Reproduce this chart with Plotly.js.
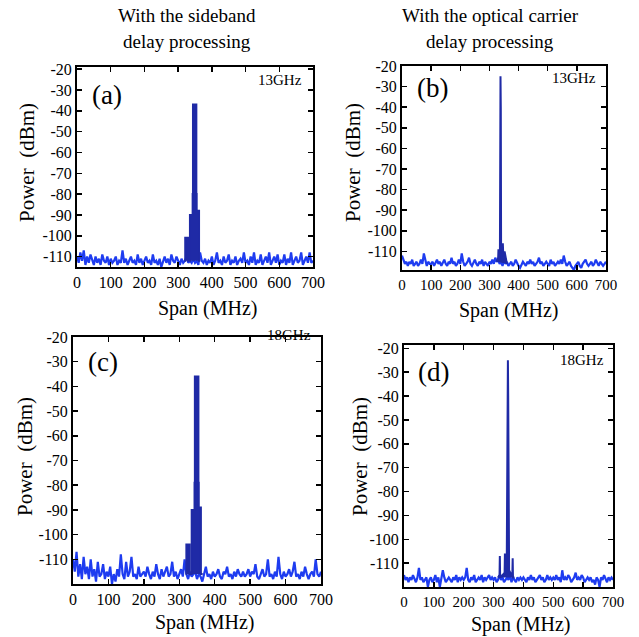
<!DOCTYPE html>
<html>
<head>
<meta charset="utf-8">
<script src="https://cdn.plot.ly/plotly-3.0.1.min.js"></script>
<style>html,body{margin:0;padding:0;background:#fff;}#chart{width:639px;height:637px;}</style>
</head>
<body>
<div id="chart"></div>
<script>
// ---- data ----
const spanMHz = [0,5,10,15,20,25,30,35,40,45,50,55,60,65,70,75,80,85,90,95,
  100,105,110,115,120,125,130,135,140,145,150,155,160,165,170,175,180,185,190,195,
  200,205,210,215,220,225,230,235,240,245,250,255,260,265,270,275,280,285,290,295,
  300,305,310,315,320,325,330,335,340,345,350,355,360,365,370,375,380,385,390,395,
  400,405,410,415,420,425,430,435,440,445,450,455,460,465,470,475,480,485,490,495,
  500,505,510,515,520,525,530,535,540,545,550,555,560,565,570,575,580,585,590,595,
  600,605,610,615,620,625,630,635,640,645,650,655,660,665,670,675,680,685,690,695,700];

const noiseA = [-110,-113,-108,-112,-107,-114,-110,-113,-109,-112,-114,-110,-113,-111,-114,-109,-112,-113,-110,-114,
  -111,-113,-112,-110,-114,-112,-113,-107,-113,-111,-114,-112,-110,-113,-112,-114,-109,-113,-111,-114,
  -112,-110,-113,-112,-114,-109,-113,-112,-114,-111,-115,-112,-110,-113,-111,-114,-109,-112,-113,-110,
  -112,-114,-111,-113,-112,-110,-113,-112,-113,-111,-113,-112,-114,-108,-112,-113,-111,-114,-112,-113,
  -110,-114,-112,-108,-113,-112,-114,-110,-113,-112,-109,-114,-112,-113,-110,-114,-112,-111,-113,-108,
  -113,-112,-114,-110,-113,-108,-114,-112,-113,-109,-114,-112,-110,-113,-108,-114,-112,-110,-113,-109,
  -114,-112,-113,-109,-114,-111,-113,-108,-114,-112,-110,-113,-112,-108,-114,-112,-110,-113,-108,-113,-112];

const noiseB = [-112,-114,-116,-115,-117,-115,-116,-114,-117,-116,-115,-117,-116,-114,-116,-111,-115,-117,-115,-116,
  -116,-115,-117,-115,-114,-116,-115,-117,-115,-114,-116,-117,-115,-116,-113,-116,-115,-117,-116,-114,
  -116,-111,-115,-117,-116,-115,-113,-116,-117,-115,-114,-116,-117,-115,-116,-114,-117,-115,-116,-117,
  -115,-116,-114,-116,-113,-115,-114,-116,-115,-117,-114,-116,-115,-117,-116,-115,-117,-116,-114,-116,
  -117,-118,-116,-115,-116,-117,-115,-116,-114,-116,-115,-117,-116,-115,-113,-116,-115,-117,-116,-115,
  -116,-117,-114,-116,-115,-117,-116,-115,-116,-114,-116,-112,-115,-117,-116,-115,-117,-118,-119,-117,
  -116,-115,-117,-118,-116,-115,-114,-116,-117,-116,-115,-117,-116,-114,-116,-117,-115,-116,-117,-116,-115];

const noiseC = [-110,-115,-107,-117,-112,-118,-109,-116,-113,-118,-110,-117,-114,-119,-111,-117,-116,-112,-118,-115,
  -117,-113,-120,-116,-119,-114,-117,-108,-116,-118,-111,-117,-115,-109,-117,-116,-118,-113,-117,-116,
  -115,-117,-113,-116,-118,-115,-117,-112,-116,-118,-114,-117,-115,-113,-117,-116,-111,-117,-115,-118,
  -116,-114,-117,-110,-116,-118,-115,-117,-116,-115,-118,-116,-117,-119,-116,-113,-117,-116,-118,-115,
  -117,-116,-114,-117,-118,-115,-116,-113,-117,-116,-118,-115,-117,-114,-116,-117,-115,-117,-116,-114,
  -117,-115,-116,-112,-117,-118,-116,-114,-117,-116,-110,-117,-116,-118,-115,-117,-109,-116,-118,-115,
  -117,-116,-114,-117,-115,-111,-117,-116,-118,-115,-117,-113,-116,-118,-116,-115,-117,-110,-116,-117,-115];

const noiseD = [-115,-117,-116,-118,-116,-117,-115,-117,-118,-116,-112,-117,-116,-118,-117,-116,-120,-117,-116,-118,
  -117,-115,-118,-116,-120,-117,-113,-116,-118,-117,-116,-117,-118,-116,-117,-115,-118,-116,-117,-116,
  -117,-116,-112,-117,-118,-116,-117,-115,-118,-117,-116,-117,-115,-118,-116,-117,-116,-115,-117,-116,
  -117,-116,-118,-117,-115,-117,-116,-118,-117,-116,-117,-115,-118,-116,-117,-118,-116,-117,-116,-117,
  -116,-117,-118,-116,-117,-115,-117,-116,-118,-117,-116,-115,-117,-116,-118,-117,-115,-117,-116,-117,
  -116,-117,-115,-117,-116,-118,-113,-117,-116,-117,-115,-116,-118,-117,-116,-114,-117,-116,-117,-115,
  -116,-118,-117,-116,-117,-116,-118,-117,-119,-116,-117,-120,-116,-117,-115,-117,-118,-116,-117,-116,-117];

const peakAX = [318,321,321,329,329,335,335,343,343,344,344,354,354,355,355,362,362,366];
const peakAY = [-112,-112,-101,-101,-112,-112,-90,-90,-80,-80,-37,-37,-80,-80,-88,-88,-112,-112];

const peakBX = [325,330,331,333,336,337,338,339,340,342,343,346,347,350,352,356,360];
const peakBY = [-115,-113,-109,-114,-112,-40,-25,-40,-108,-106,-112,-106,-110,-113,-110,-114,-116];

const peakCX = [318,320,320,329,329,335,335,343,343,344,344,354,354,355,355,361,361,366];
const peakCY = [-116,-116,-104,-104,-116,-116,-90,-90,-79,-79,-36,-36,-79,-79,-89,-89,-116,-116];

const peakDX = [315,320,321,322,330,337,338,340,344,346,347,348,349,350,352,356,360,363,364,365,370];
const peakDY = [-116,-115,-107,-116,-115,-114,-106,-114,-112,-40,-25,-25,-40,-110,-113,-114,-115,-114,-108,-116,-116];

const xTickVals = [0,100,200,300,400,500,600,700];
const xTickText = ["0","100","200","300","400","500","600","700"];
const yTickVals = [-20,-30,-40,-50,-60,-70,-80,-90,-100,-110];
const yTickText = ["-20","-30","-40","-50","-60","-70","-80","-90","-100","-110"];

const panelLabels = ["(a)","(b)","(c)","(d)"];
const freqLabels = ["13GHz","13GHz","18GHz","18GHz"];
const yRanges = [[-115,-19],[-119,-20],[-120,-20],[-120,-18.6]];

// ---- layout ----
const W = 639, H = 637;
const boxes = [ // pixel frames: left, right, top, bottom
  [77,313,67,267],
  [402,606,66,270],
  [73,321,337,584],
  [404,613,345,587]
];
const serif = '"Liberation Serif", "Times New Roman", Times, serif';
const noiseColor = '#1e3cf0';
const peakColor = '#1f2aa6';

const noises = [noiseA, noiseB, noiseC, noiseD];
const peaksX = [peakAX, peakBX, peakCX, peakDX];
const peaksY = [peakAY, peakBY, peakCY, peakDY];

const data = [];
const layout = {
  width: W, height: H,
  margin: {l:0, r:0, t:0, b:0},
  paper_bgcolor: '#fff', plot_bgcolor: '#fff',
  showlegend: false,
  font: {family: serif, color: '#000'},
  annotations: []
};

for (let i = 0; i < 4; i++) {
  const sfx = i === 0 ? '' : String(i + 1);
  const [l, r, t, b] = boxes[i];
  const axCommon = {
    showline: true, linewidth: 2, linecolor: '#000', mirror: 'ticks',
    ticks: 'inside', ticklen: 5, tickwidth: 1.5, tickcolor: '#000',
    showgrid: false, zeroline: false, fixedrange: true,
    tickfont: {family: serif, size: 16, color: '#000'}
  };
  layout['xaxis' + sfx] = Object.assign({}, axCommon, {
    domain: [l / W, r / W], range: [0, 700],
    tickvals: xTickVals, ticktext: xTickText,
    anchor: 'y' + sfx
  });
  layout['yaxis' + sfx] = Object.assign({}, axCommon, {
    domain: [1 - b / H, 1 - t / H], range: yRanges[i],
    tickvals: yTickVals, ticktext: yTickText,
    anchor: 'x' + sfx
  });
  if (i === 1 || i === 3) layout['xaxis' + sfx].tickfont = {family: serif, size: 15, color: '#000'};
  data.push({
    type: 'scatter', mode: 'lines', x: spanMHz, y: noises[i],
    xaxis: 'x' + sfx, yaxis: 'y' + sfx,
    line: {color: noiseColor, width: 2.2}, hoverinfo: 'skip'
  });
  data.push({
    type: 'scatter', mode: 'lines', x: peaksX[i], y: peaksY[i],
    xaxis: 'x' + sfx, yaxis: 'y' + sfx,
    fill: 'toself', fillcolor: peakColor,
    line: {color: peakColor, width: 2}, hoverinfo: 'skip'
  });
}

function ann(text, x, y, size, opts) {
  layout.annotations.push(Object.assign({
    text: text, x: x / W, y: 1 - y / H, xref: 'paper', yref: 'paper',
    showarrow: false, xanchor: 'center', yanchor: 'middle',
    font: {family: serif, size: size, color: '#000'}
  }, opts || {}));
}

// column headings
ann('With the sideband', 187, 15, 19);
ann('delay processing', 187, 42, 19);
ann('With the optical carrier', 490, 15, 19);
ann('delay processing', 490, 42, 19);

// axis titles
const yTitlePos = [[27,163],[353,163],[25,457],[360,457]];
const xTitlePos = [[207,308],[508,310],[204,622],[520,624]];
for (let i = 0; i < 4; i++) {
  ann('Power&nbsp; (dBm)', yTitlePos[i][0], yTitlePos[i][1], 21, {textangle: -90});
  ann('Span (MHz)', xTitlePos[i][0], xTitlePos[i][1], 20);
}

// panel labels
const plPos = [[107,95],[432,88],[103,362],[433,372]];
const fqPos = [[304,80],[598,78],[313,335],[606,360]];
for (let i = 0; i < 4; i++) {
  ann(panelLabels[i], plPos[i][0], plPos[i][1], 27);
  ann(freqLabels[i], fqPos[i][0], fqPos[i][1], 15, {xanchor: 'right'});
}

Plotly.newPlot('chart', data, layout, {displayModeBar: false, staticPlot: true});
</script>
</body>
</html>
